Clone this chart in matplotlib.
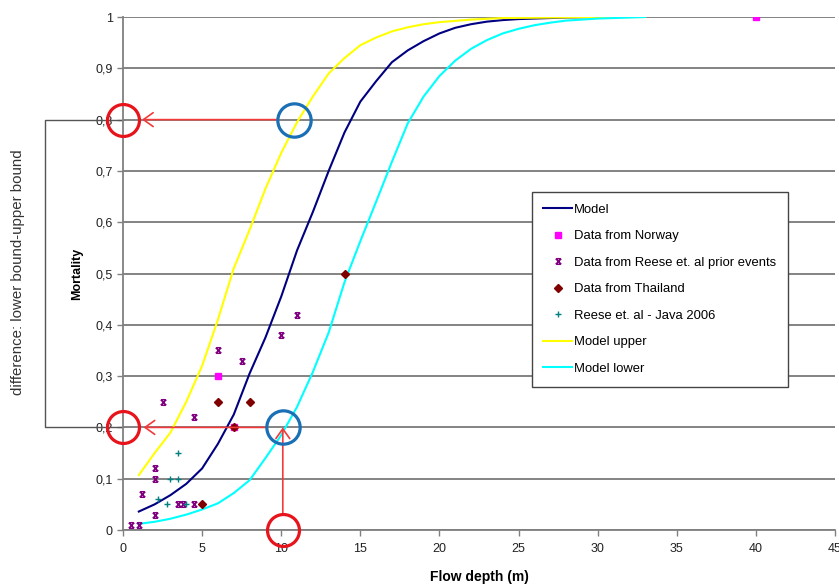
import matplotlib
matplotlib.use('Agg')
import matplotlib.pyplot as plt
from matplotlib.path import Path
from matplotlib.transforms import blended_transform_factory

plt.rcParams['font.family'] = ['Liberation Sans', 'DejaVu Sans']

# fitted mortality curves (flow depth in m)
model_depth = [1, 2, 3, 4, 5, 6, 7, 8, 9, 10, 11, 12, 13, 14, 15, 16, 17, 18, 19, 20,
               21, 22, 23, 24, 25, 26, 27, 28, 30]
model_mort = [0.036, 0.05, 0.068, 0.09, 0.12, 0.168, 0.225, 0.305, 0.375, 0.455, 0.545,
              0.62, 0.70, 0.775, 0.835, 0.875, 0.912, 0.935, 0.953, 0.968, 0.979, 0.986,
              0.991, 0.994, 0.996, 0.997, 0.998, 0.999, 1.0]

upper_depth = [1, 2, 3, 4, 5, 6, 7, 8, 9, 10, 11, 12, 13, 14, 15, 16, 17, 18, 19, 20,
               22, 24, 27, 30, 33]
upper_mort = [0.107, 0.15, 0.19, 0.25, 0.32, 0.41, 0.51, 0.585, 0.665, 0.735, 0.795,
              0.845, 0.89, 0.92, 0.945, 0.96, 0.972, 0.98, 0.986, 0.99, 0.995, 0.998,
              0.999, 1.0, 1.0]

lower_depth = [1, 2, 3, 4, 5, 6, 7, 8, 9, 10, 11, 12, 13, 14, 15, 16, 17, 18, 19, 20,
               21, 22, 23, 24, 25, 26, 27, 28, 30, 33]
lower_mort = [0.012, 0.016, 0.022, 0.03, 0.04, 0.052, 0.072, 0.097, 0.14, 0.185, 0.24,
              0.308, 0.385, 0.483, 0.563, 0.64, 0.718, 0.793, 0.845, 0.885, 0.915, 0.938,
              0.955, 0.968, 0.977, 0.984, 0.989, 0.993, 0.997, 1.0]

# observed events
norway_depth = [40, 6, 7]
norway_mort = [1.0, 0.3, 0.2]

reese_depth = [0.5, 1, 1.2, 2, 2, 2, 2.5, 3.5, 3.8, 4.5, 4.5, 6, 7.5, 10, 11]
reese_mort = [0.01, 0.01, 0.07, 0.03, 0.10, 0.12, 0.25, 0.05, 0.05, 0.05, 0.22, 0.35,
              0.33, 0.38, 0.42]

thai_depth = [5, 6, 7, 8, 14]
thai_mort = [0.05, 0.25, 0.2, 0.25, 0.5]

java_depth = [2.2, 2.8, 3, 3.5, 3.5, 4]
java_mort = [0.06, 0.05, 0.1, 0.1, 0.15, 0.05]

# reading of the bounds at mortality 0.2 / 0.8
red_circles = [(0, 0.8), (0, 0.2), (10.1, 0.0)]
blue_circles = [(10.8, 0.8), (10.1, 0.2)]

# x with caps, like the Excel marker
cap_x = Path([(-1, -1), (1, 1), (-1, 1), (1, -1), (-0.7, 1), (0.7, 1), (-0.7, -1), (0.7, -1)],
             [Path.MOVETO, Path.LINETO, Path.MOVETO, Path.LINETO,
              Path.MOVETO, Path.LINETO, Path.MOVETO, Path.LINETO])

fig = plt.figure(figsize=(8.39, 5.87), dpi=100)
ax = fig.add_axes([0.1466, 0.0971, 0.8486, 0.8739])

ax.plot(model_depth, model_mort, color='#000080', lw=1.5, label='Model', zorder=3)
ax.plot(norway_depth, norway_mort, 's', color='#ff00ff', ms=5, ls='none',
        label='Data from Norway', zorder=4)
ax.plot(reese_depth, reese_mort, marker=cap_x, color='#800080', ms=4, mew=1.1, ls='none',
        label='Data from Reese et. al prior events', zorder=4)
ax.plot(thai_depth, thai_mort, 'D', color='#800000', ms=4.5, ls='none',
        label='Data from Thailand', zorder=5)
ax.plot(java_depth, java_mort, '+', color='#008080', ms=5, mew=1.0, ls='none',
        label='Reese et. al - Java 2006', zorder=4)
ax.plot(upper_depth, upper_mort, color='#ffff00', lw=1.5, label='Model upper', zorder=3)
ax.plot(lower_depth, lower_mort, color='#00ffff', lw=1.5, label='Model lower', zorder=3)

ax.set_xlim(0, 45)
ax.set_ylim(0, 1)
ax.set_xticks(range(0, 50, 5))
ax.set_yticks([i / 10 for i in range(11)])
ax.set_yticklabels(['0', '0,1', '0,2', '0,3', '0,4', '0,5', '0,6', '0,7', '0,8', '0,9', '1'])
ax.tick_params(direction='out', length=4, width=1, color='#808080', labelsize=9,
               labelcolor='#222222')
ax.tick_params(axis='x', pad=5.5)
ax.yaxis.grid(True, color='#7a7a7a', lw=1.3)
ax.set_axisbelow(True)
for s in ['top', 'right']:
    ax.spines[s].set_visible(False)
for s in ['left', 'bottom']:
    ax.spines[s].set_color('#808080')
    ax.spines[s].set_linewidth(1.3)

ax.set_ylabel('Mortality', fontsize=9, fontweight='bold', labelpad=9)
ax.set_xlabel('Flow depth (m)', fontsize=10, fontweight='bold', labelpad=11)

# red arrows
arrow = dict(arrowstyle='->,head_length=0.7,head_width=0.5', color='#f23a3a', lw=1.2,
             shrinkA=0, shrinkB=0)
ax.annotate('', xy=(1.2, 0.8), xytext=(9.7, 0.8), arrowprops=arrow, zorder=6)
ax.annotate('', xy=(1.3, 0.2), xytext=(9.0, 0.2), arrowprops=arrow, zorder=6)
ax.annotate('', xy=(10.1, 0.2), xytext=(10.1, 0.03), arrowprops=arrow, zorder=6)

for cx, cy in red_circles:
    ax.plot(cx, cy, 'o', ms=23, mfc='none', mec='#e8141c', mew=2.3, clip_on=False, zorder=7)
for cx, cy in blue_circles:
    ax.plot(cx, cy, 'o', ms=24, mfc='none', mec='#1b6fb5', mew=2.3, clip_on=False, zorder=7)

# bracket between the two bounds
tr = blended_transform_factory(ax.transAxes, ax.transData)
ax.plot([0, -0.1096, -0.1096, 0], [0.8, 0.8, 0.2, 0.2], color='#555555', lw=1,
        transform=tr, clip_on=False)
fig.text(0.022, 0.537, 'difference: lower bound-upper bound', rotation=90,
         ha='center', va='center', fontsize=10.8, color='#333333')

leg = ax.legend(loc='upper left', bbox_to_anchor=(0.574, 0.659), borderaxespad=0,
                fontsize=9.4, labelspacing=1.1, handlelength=2.2, handletextpad=0.15,
                fancybox=False, framealpha=1, edgecolor='#444444', borderpad=0.9)
leg.get_frame().set_linewidth(1)

fig.savefig('out.png', dpi=100)
